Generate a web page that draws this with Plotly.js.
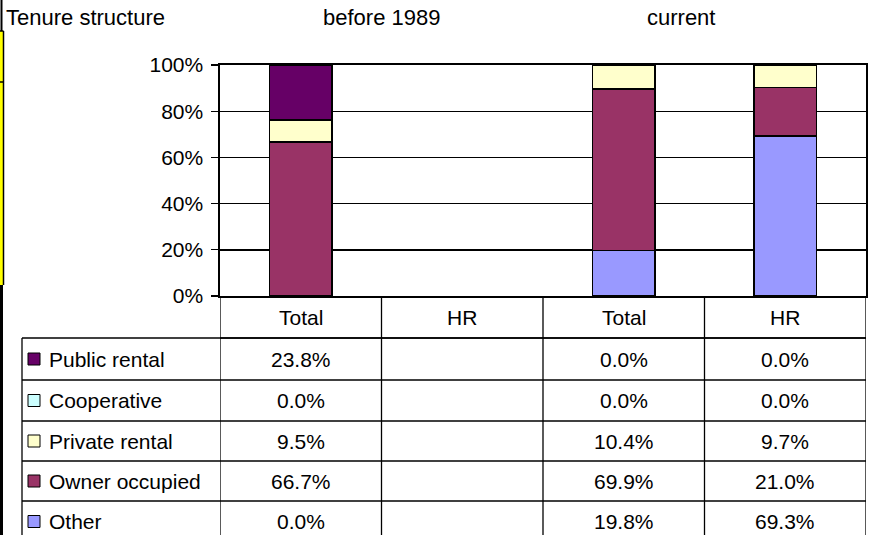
<!DOCTYPE html>
<html><head><meta charset="utf-8">
<script src="https://cdn.plot.ly/plotly-3.0.1.min.js"></script>
<style>html,body{margin:0;padding:0;background:#fff}</style>
</head><body><div id="chart" style="width:878px;height:535px"></div>
<script>
// ---- data ----
const chartTitle = 'Tenure structure';
const groupLabels = ['before 1989', 'current'];
const categories = ['Total', 'HR', 'Total', 'HR'];
const seriesNames = ['Public rental', 'Cooperative', 'Private rental', 'Owner occupied', 'Other'];
const publicRental  = [23.8, null, 0.0, 0.0];
const cooperative   = [0.0,  null, 0.0, 0.0];
const privateRental = [9.5,  null, 10.4, 9.7];
const ownerOccupied = [66.7, null, 69.9, 21.0];
const other         = [0.0,  null, 19.8, 69.3];
const yTickValues = [0, 20, 40, 60, 80, 100];
const yTickLabels = ['0%', '20%', '40%', '60%', '80%', '100%'];

// ---- styling ----
const W = 878, H = 535;
const FONT = 'Liberation Sans, Arial, sans-serif';
const colors = {
  'Public rental': '#660066',
  'Cooperative': '#CCFFFF',
  'Private rental': '#FFFFCC',
  'Owner occupied': '#993366',
  'Other': '#9999FF'
};
const valuesByName = {
  'Public rental': publicRental,
  'Cooperative': cooperative,
  'Private rental': privateRental,
  'Owner occupied': ownerOccupied,
  'Other': other
};
const px = x => x / W;
const py = y => 1 - y / H;

const plotL = 220, plotR = 866, plotT = 65, plotB = 296;
const xIdx = categories.map((c, i) => i);

// stack order bottom -> top is reverse of table order
const traces = seriesNames.slice().reverse().map(name => ({
  type: 'bar',
  name: name,
  x: xIdx,
  y: valuesByName[name],
  marker: { color: colors[name], line: { color: '#000', width: 1.5 } },
  hoverinfo: 'skip'
}));

const shapes = [];
const annotations = [];
const txt = (text, x, y, xref, xanchor, size) => ({
  text: text, x: x, y: y, xref: xref, yref: 'paper', xanchor: xanchor, yanchor: 'middle',
  showarrow: false, font: { family: FONT, size: size, color: '#000' }
});
const line = (x0, y0, x1, y1, xref, w) => ({
  type: 'line', xref: xref, yref: 'paper', x0: x0, y0: y0, x1: x1, y1: y1,
  line: { color: '#000', width: w || 1.3 }
});

// table geometry
const headerBottom = 338;
const rowLines = [338, 380, 421, 461, 501, 542];
const tableLeft = 22;
const TABLE_FONT = 21;

// vertical column dividers (data coords)
for (let k = 0; k <= categories.length; k++) {
  shapes.push(line(k - 0.5, py(plotB), k - 0.5, py(H), 'x', 1.3));
}
// header bottom line
shapes.push(line(px(plotL), py(headerBottom), px(plotR), py(headerBottom), 'paper', 1.3));
// legend column left border
shapes.push(line(px(tableLeft), py(headerBottom), px(tableLeft), py(H), 'paper', 1.3));
// row lines
rowLines.forEach(y => shapes.push(line(px(tableLeft), py(y), px(plotR), py(y), 'paper', 1.3)));

// header labels
categories.forEach((c, i) => annotations.push(txt(c, i, py((plotB + headerBottom) / 2), 'x', 'center', TABLE_FONT)));

// rows
seriesNames.forEach((name, r) => {
  const yc = (rowLines[r] + rowLines[r + 1]) / 2;
  shapes.push({
    type: 'rect', xref: 'paper', yref: 'paper',
    x0: px(28), x1: px(40), y0: py(yc + 6), y1: py(yc - 6),
    fillcolor: colors[name], line: { color: '#000', width: 1 }
  });
  annotations.push(txt(name, px(47), py(yc), 'paper', 'left', TABLE_FONT));
  valuesByName[name].forEach((v, i) => {
    if (v !== null) annotations.push(txt(v.toFixed(1) + '%', i, py(yc), 'x', 'center', TABLE_FONT));
  });
});

// top labels
annotations.push(txt(chartTitle, px(4), py(17), 'paper', 'left', 22));
annotations.push(txt(groupLabels[0], 0.5, py(17), 'x', 'center', 22));
annotations.push(txt(groupLabels[1], px(681), py(17), 'paper', 'center', 22));

// left edge artifact
shapes.push({ type: 'rect', xref: 'paper', yref: 'paper', x0: 0, x1: px(3), y0: py(285), y1: py(31), fillcolor: '#FFFF00', line: { width: 0 } });
shapes.push(line(px(1.5), py(0), px(1.5), py(31), 'paper', 2));
shapes.push(line(px(3.5), py(31), px(3.5), py(285), 'paper', 1.5));
shapes.push(line(0, py(31), px(3.5), py(31), 'paper', 1.5));
shapes.push(line(0, py(82), px(3.5), py(82), 'paper', 1.5));
shapes.push({ type: 'rect', xref: 'paper', yref: 'paper', x0: 0, x1: px(3), y0: py(H), y1: py(285), fillcolor: '#000', line: { width: 0 } });

const layout = {
  width: W, height: H,
  margin: { l: 0, r: 0, t: 0, b: 0, pad: 0 },
  paper_bgcolor: '#fff', plot_bgcolor: '#fff',
  barmode: 'stack', bargap: 0.61,
  showlegend: false,
  font: { family: FONT, size: 21, color: '#000' },
  xaxis: {
    domain: [px(plotL), px(plotR)], range: [-0.5, categories.length - 0.5],
    showticklabels: false, ticks: '', showgrid: false, zeroline: false,
    showline: true, mirror: true, linecolor: '#000', linewidth: 1.6, fixedrange: true
  },
  yaxis: {
    domain: [py(plotB), py(plotT)], range: [0, 100],
    tickvals: yTickValues, ticktext: yTickLabels,
    ticks: 'outside', ticklen: 7, tickcolor: '#000', tickwidth: 1.3,
    ticklabelstandoff: 4,
    tickfont: { family: FONT, size: 21, color: '#000' },
    showgrid: true, gridcolor: '#000', gridwidth: 1.4, zeroline: false,
    showline: true, mirror: true, linecolor: '#000', linewidth: 1.6, fixedrange: true
  },
  shapes: shapes,
  annotations: annotations
};

Plotly.newPlot('chart', traces, layout, { staticPlot: true, displayModeBar: false });
</script>
</body></html>
